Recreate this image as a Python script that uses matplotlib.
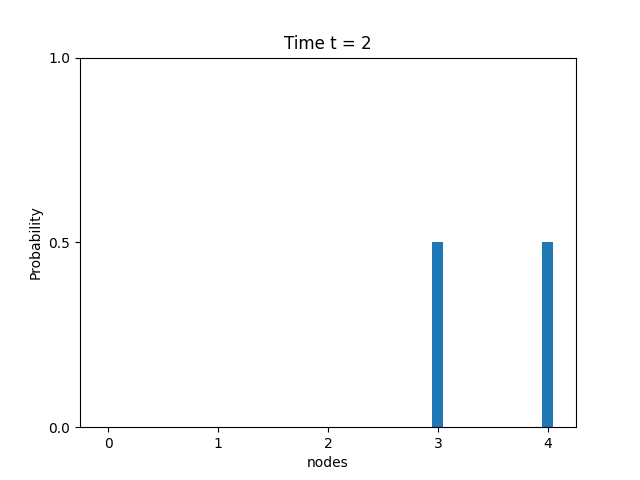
import numpy as np
import matplotlib
matplotlib.use("Agg")
import matplotlib.pyplot as plt

# Distribucion de probabilidad en el instante t = 2
nodes = [0, 1, 2, 3, 4]
probability = [0.0, 0.0, 0.0, 0.5, 0.5]
t = 2

fig, ax = plt.subplots(figsize=(6.4, 4.8), dpi=100)
ax.bar(nodes, probability, width=0.1)

ax.set_ylim(0, 1)
ax.set_yticks([0.0, 0.5, 1.0])
ax.set_xticks(nodes)
ax.set_xlabel("nodes")
ax.set_ylabel("Probability")
ax.set_title(f"Time t = {t}")

fig.savefig("out.png")
